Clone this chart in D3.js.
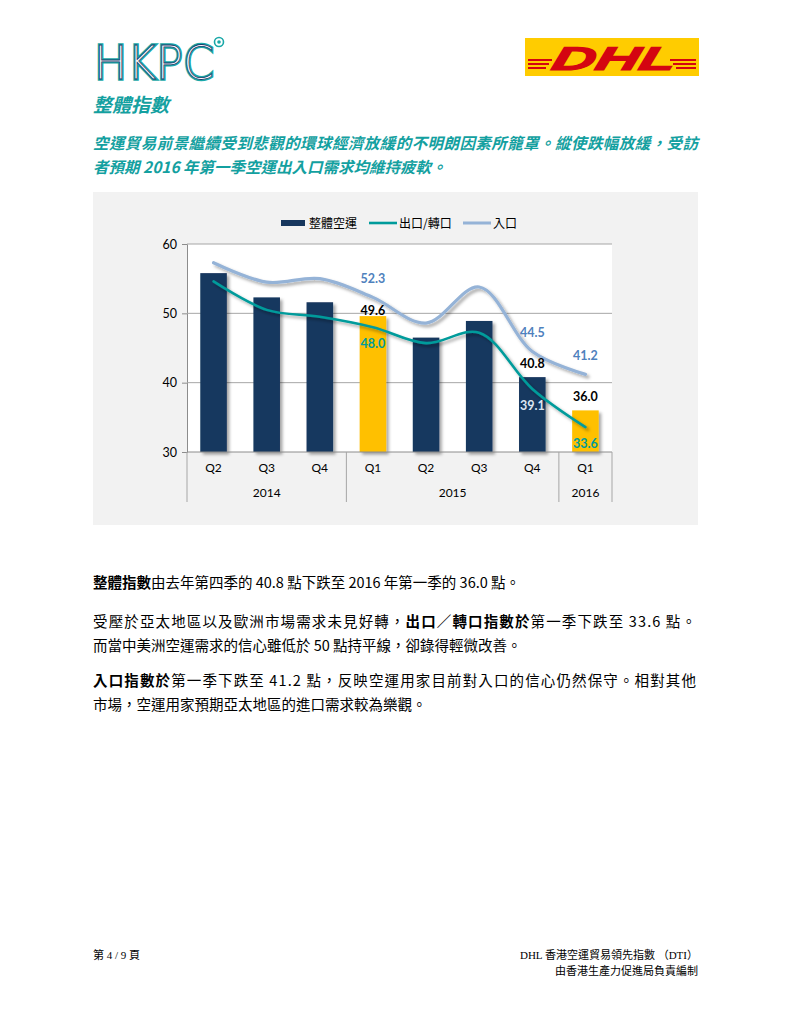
<!DOCTYPE html>
<html>
<head>
<meta charset="utf-8">
<script src="https://cdn.jsdelivr.net/npm/d3@7"></script>
<style>
  html,body{margin:0;padding:0;background:#fff;}
  svg{display:block;}
</style>
</head>
<body>
<svg id="page" width="791" height="1024"></svg>
<script>
// ---- data ----
const quarters = ['Q2','Q3','Q4','Q1','Q2','Q3','Q4','Q1'];
const years    = [{label:'2014',from:0,to:2},{label:'2015',from:3,to:6},{label:'2016',from:7,to:7}];
const overall  = [55.8, 52.3, 51.6, 49.6, 46.5, 48.9, 40.8, 36.0];   // 整體空運 (bars)
const exportIx = [54.6, 50.5, 49.5, 48.0, 45.7, 47.2, 39.1, 33.6];   // 出口/轉口
const importIx = [57.3, 54.5, 55.0, 52.3, 48.6, 53.8, 44.5, 41.2];   // 入口
const labelled = [3, 6, 7];            // points that carry data labels
const highlight = [3, 7];              // yellow bars
const yTicks   = [30, 40, 50, 60];

const svg = d3.select('#page');
const CJK = '"Noto Sans CJK TC","Noto Sans CJK SC",sans-serif';
const CHART = 'Lato,"Open Sans",' + CJK;
const TEAL = '#13a0a0';

// ---- header ----
// HKPC logo (drawn as outlined text)
const logo = svg.append('g');
logo.append('text').attr('x',94).attr('y',79).attr('font-family','"DejaVu Sans",sans-serif')
  .attr('font-size',46).attr('font-weight',300).attr('fill','none')
  .attr('stroke','#1aa8a8').attr('stroke-width',3.5).attr('textLength',120).attr('lengthAdjust','spacingAndGlyphs').text('HKPC');
logo.append('text').attr('x',94).attr('y',79).attr('font-family','"DejaVu Sans",sans-serif')
  .attr('font-size',46).attr('font-weight',300).attr('fill','#fff')
  .attr('stroke','#1b3a6b').attr('stroke-width',0.8).attr('textLength',120).attr('lengthAdjust','spacingAndGlyphs').text('HKPC');
logo.append('circle').attr('cx',219).attr('cy',42).attr('r',4.5).attr('fill','none').attr('stroke','#1aa8a8').attr('stroke-width',1.6);
logo.append('circle').attr('cx',219).attr('cy',42).attr('r',1.8).attr('fill','#1aa8a8');

// DHL logo
const dhl = svg.append('g');
dhl.append('rect').attr('x',525).attr('y',38).attr('width',174).attr('height',38).attr('fill','#ffcc00');
[0,1,2].forEach(i=>{
  dhl.append('rect').attr('x',528).attr('y',59+i*4).attr('width',24-i*3).attr('height',2).attr('fill','#d40511');
  dhl.append('rect').attr('x',670+i*3).attr('y',59+i*4).attr('width',26-i*3).attr('height',2).attr('fill','#d40511');
});
dhl.append('text').attr('x',612).attr('y',70).attr('text-anchor','middle')
  .attr('font-family','"Liberation Sans",Arial,sans-serif').attr('font-size',33).attr('font-weight',900)
  .attr('font-style','italic').attr('fill','#d40511').attr('stroke','#d40511').attr('stroke-width',1.2)
  .attr('textLength',124).attr('lengthAdjust','spacingAndGlyphs')
  .attr('transform','translate(612,70) skewX(-14) translate(-612,-70)').text('DHL');

// title + lead paragraph
svg.append('text').attr('x',93).attr('y',112).attr('font-family',CJK).attr('font-size',19)
  .attr('font-weight',700).attr('font-style','italic').attr('fill',TEAL).text('整體指數');
const lead = ['空運貿易前景繼續受到悲觀的環球經濟放緩的不明朗因素所籠罩。縱使跌幅放緩，受訪',
              '者預期 2016 年第一季空運出入口需求均維持疲軟。'];
lead.forEach((t,i)=>svg.append('text').attr('x',93).attr('y',149+i*24).attr('font-family',CJK)
  .attr('font-size',15.5).attr('font-weight',700).attr('font-style','italic').attr('fill',TEAL)
  .attr('textLength',i===0?605:null).text(t));

// ---- chart ----
svg.append('rect').attr('x',93).attr('y',192).attr('width',605).attr('height',333).attr('fill','#f2f2f2');

const defs = svg.append('defs');
const f = defs.append('filter').attr('id','sh').attr('x','-20%').attr('y','-20%').attr('width','150%').attr('height','150%');
f.append('feDropShadow').attr('dx',2.5).attr('dy',2.5).attr('stdDeviation',1.6).attr('flood-color','#000').attr('flood-opacity',0.35);

const plot = {l:187, r:612, t:244, b:452};
const x = d3.scaleBand().domain(d3.range(quarters.length)).range([plot.l, plot.r]).paddingInner(0.5).paddingOuter(0.25);
const y = d3.scaleLinear().domain([30,60]).range([plot.b, plot.t]);
const cx = i => x(i) + x.bandwidth()/2;

svg.append('rect').attr('x',plot.l).attr('y',plot.t).attr('width',plot.r-plot.l).attr('height',plot.b-plot.t).attr('fill','#fff');

// gridlines + y axis
const yAxis = svg.append('g').attr('transform',`translate(${plot.l},0)`)
  .call(d3.axisLeft(y).tickValues(yTicks).tickSize(5).tickPadding(5).tickFormat(d3.format('d')));
yAxis.select('.domain').attr('stroke','#8c8c8c');
yAxis.selectAll('.tick line').attr('stroke','#8c8c8c');
yAxis.selectAll('.tick text').attr('font-family',CHART).attr('font-size',12.5).attr('fill','#000');
svg.append('g').selectAll('line').data(yTicks.filter(v=>v>30)).join('line')
  .attr('x1',plot.l).attr('x2',plot.r).attr('y1',d=>y(d)).attr('y2',d=>y(d)).attr('stroke','#a6a6a6').attr('stroke-width',1);

// bars
svg.append('g').selectAll('rect').data(overall).join('rect')
  .attr('x',(d,i)=>x(i)).attr('width',x.bandwidth())
  .attr('y',d=>y(d)).attr('height',d=>y(30)-y(d))
  .attr('fill',(d,i)=>highlight.includes(i)?'#ffc000':'#17375e')
  .attr('filter','url(#sh)');

// category axis (two levels)
const xa = svg.append('g');
xa.append('line').attr('x1',plot.l).attr('x2',plot.r).attr('y1',plot.b).attr('y2',plot.b).attr('stroke','#8c8c8c');
const step = x.step();
const seps = [plot.l].concat(years.map(yr=>cx(yr.to)+step/2));
xa.selectAll('line.sep').data(seps).join('line').attr('class','sep')
  .attr('x1',d=>d).attr('x2',d=>d).attr('y1',plot.b).attr('y2',502).attr('stroke','#a6a6a6');
xa.selectAll('text.q').data(quarters).join('text').attr('class','q')
  .attr('x',(d,i)=>cx(i)).attr('y',472).attr('text-anchor','middle')
  .attr('font-family',CHART).attr('font-size',12).attr('fill','#000').text(d=>d);
xa.selectAll('text.yr').data(years).join('text').attr('class','yr')
  .attr('x',d=>(cx(d.from)+cx(d.to))/2).attr('y',497).attr('text-anchor','middle')
  .attr('font-family',CHART).attr('font-size',12).attr('fill','#000').text(d=>d.label);

// lines
const line = d3.line().x((d,i)=>cx(i)).y(d=>y(d)).curve(d3.curveCatmullRom.alpha(0.5));
svg.append('path').datum(importIx).attr('d',line).attr('fill','none').attr('stroke','#95b3d7')
  .attr('stroke-width',3.2).attr('stroke-linecap','round').attr('filter','url(#sh)');
svg.append('path').datum(exportIx).attr('d',line).attr('fill','none').attr('stroke','#009b9b')
  .attr('stroke-width',2.6).attr('stroke-linecap','round').attr('filter','url(#sh)');

// data labels
const lab = svg.append('g').attr('font-family',CHART).attr('font-size',12.5).attr('font-weight',700).attr('text-anchor','middle');
const barOff = {3:-1, 6:-9, 7:-9};
labelled.forEach(i=>{
  lab.append('text').attr('x',cx(i)).attr('y',y(overall[i])+barOff[i]).attr('fill','#000').text(overall[i].toFixed(1));
  lab.append('text').attr('x',cx(i)).attr('y',y(importIx[i])-14).attr('fill','#4f81bd').text(importIx[i].toFixed(1));
  lab.append('text').attr('x',cx(i)).attr('y',y(exportIx[i])+21).attr('fill',i===6?'#dce6f2':'#009b9b').text(exportIx[i].toFixed(1));
});

// legend
const lg = svg.append('g').attr('font-family',CJK).attr('font-size',12).attr('fill','#000');
lg.append('rect').attr('x',281).attr('y',220).attr('width',24).attr('height',6).attr('fill','#17375e');
lg.append('text').attr('x',309).attr('y',228).text('整體空運');
lg.append('line').attr('x1',369).attr('x2',397).attr('y1',223).attr('y2',223).attr('stroke','#009b9b').attr('stroke-width',2.6);
lg.append('text').attr('x',399).attr('y',228).text('出口/轉口');
lg.append('line').attr('x1',463).attr('x2',491).attr('y1',223).attr('y2',223).attr('stroke','#95b3d7').attr('stroke-width',3);
lg.append('text').attr('x',493).attr('y',228).text('入口');

// ---- body text ----
const body = svg.append('g').attr('font-family',CJK).attr('font-size',14.5).attr('fill','#000');
function para(yy, parts, len){
  const t = body.append('text').attr('x',93).attr('y',yy);
  if(len) t.attr('textLength',len);
  parts.forEach(p=>t.append('tspan').attr('font-weight',p[1]?700:400).text(p[0]));
}
para(588, [['整體指數',1],['由去年第四季的 40.8 點下跌至 2016 年第一季的 36.0 點。',0]]);
para(627, [['受壓於亞太地區以及歐洲市場需求未見好轉，',0],['出口／轉口指數於',1],['第一季下跌至  33.6  點。',0]], 603);
para(651, [['而當中美洲空運需求的信心雖低於 50 點持平線，卻錄得輕微改善。',0]]);
para(686, [['入口指數於',1],['第一季下跌至  41.2  點，反映空運用家目前對入口的信心仍然保守。相對其他',0]], 603);
para(710, [['市場，空運用家預期亞太地區的進口需求較為樂觀。',0]]);

// ---- footer ----
const ft = svg.append('g').attr('font-family','"Liberation Serif",' + CJK).attr('font-size',11).attr('fill','#000');
ft.append('text').attr('x',93).attr('y',959).text('第 4 / 9 頁');
ft.append('text').attr('x',698).attr('y',959).attr('text-anchor','end').text('DHL 香港空運貿易領先指數 （DTI）');
ft.append('text').attr('x',698).attr('y',975).attr('text-anchor','end').text('由香港生產力促進局負責編制');
</script>
</body>
</html>
